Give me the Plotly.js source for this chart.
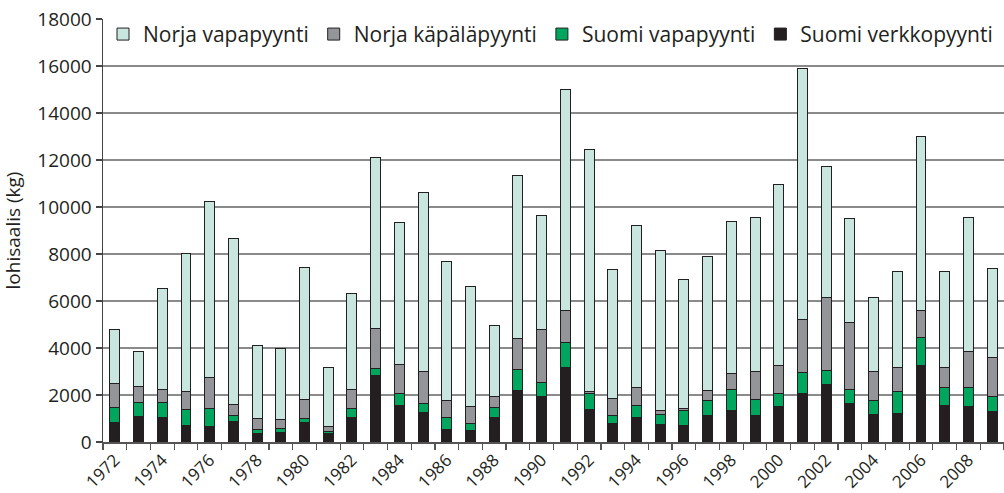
<!DOCTYPE html>
<html>
<head>
<meta charset="utf-8">
<script src="https://cdn.plot.ly/plotly-3.0.1.min.js"></script>
<style>html,body{margin:0;padding:0;background:#fff;}#chart{width:1004px;height:493px;}</style>
</head>
<body>
<div id="chart"></div>
<script>
const years = [1972,1973,1974,1975,1976,1977,1978,1979,1980,1981,1982,1983,1984,1985,1986,1987,1988,1989,1990,1991,1992,1993,1994,1995,1996,1997,1998,1999,2000,2001,2002,2003,2004,2005,2006,2007,2008,2009];
const suomiVerkko = [840,1080,1040,700,640,870,360,410,820,380,1050,2810,1570,1250,525,480,1040,2180,1930,3190,1400,770,1060,750,720,1110,1360,1120,1530,2080,2450,1630,1150,1210,3260,1560,1500,1280];
const suomiVapa = [640,600,660,690,790,270,170,170,200,80,370,330,500,400,510,300,440,910,610,1050,680,350,480,440,610,640,870,700,540,890,600,600,620,920,1190,770,810,640];
const norjaKapala = [990,690,540,740,1310,450,480,360,770,220,810,1670,1220,1330,720,750,470,1300,2240,1350,50,720,780,170,100,450,670,1200,1190,2230,3090,2850,1230,1020,1140,820,1560,1690];
const norjaVapa = [2300,1500,4280,5910,7500,7090,3100,3050,5630,2510,4080,7300,6070,7630,5910,5100,3020,6930,4860,9420,10310,5520,6890,6790,5490,5710,6480,6550,7710,10690,5600,4410,3130,4110,7420,4100,5700,3790];
const labelYears = years.filter(y => y % 2 === 0);
const yTicks = [0,2000,4000,6000,8000,10000,12000,14000,16000,18000];

const font = '"Open Sans", "Noto Sans", sans-serif';
const outline = {color: '#231f20', width: 1};
function tr(name, vals, color) {
  return {type: 'bar', name: name, x: years, y: vals,
    marker: {color: color, line: outline}, width: 0.42};
}
const data = [
  tr('Suomi verkkopyynti', suomiVerkko, '#231f20'),
  tr('Suomi vapapyynti', suomiVapa, '#00a65d'),
  tr('Norja käpäläpyynti', norjaKapala, '#939598'),
  tr('Norja vapapyynti', norjaVapa, '#c8e6de')
];
const layout = {
  width: 1004, height: 493,
  margin: {l: 103, r: 0, t: 19, b: 51},
  paper_bgcolor: '#fff', plot_bgcolor: '#fff',
  barmode: 'stack',
  font: {family: font, color: '#231f20', size: 19},
  showlegend: true,
  legend: {orientation: 'h', x: 0, xanchor: 'left', y: 1.012, yanchor: 'top',
    traceorder: 'reversed', font: {size: 21, family: font}, bgcolor: 'rgba(0,0,0,0)',
    itemwidth: 30},
  xaxis: {type: 'linear', range: [1971.5, 2009.5],
    tickmode: 'array', tickvals: labelYears, ticktext: labelYears.map(String),
    tickangle: -45, ticks: '', tickfont: {size: 17, family: font},
    minor: {tick0: 1971.5, dtick: 1, ticks: 'outside', ticklen: 6, tickcolor: '#555', tickwidth: 1.2},
    showline: true, linecolor: '#555', linewidth: 1.5,
    showgrid: false, zeroline: false, fixedrange: true},
  yaxis: {range: [0, 18000], tickmode: 'array', tickvals: yTicks, ticktext: yTicks.map(String),
    ticks: 'outside', ticklen: 6, tickcolor: '#444', tickwidth: 1.2,
    tickfont: {size: 19, family: font},
    showline: true, linecolor: '#444', linewidth: 1.5,
    showgrid: true, gridcolor: '#8a8a8a', gridwidth: 1.3, zeroline: false,
    title: {text: 'lohisaalis (kg)', font: {size: 19, family: font}, standoff: 12},
    fixedrange: true}
};
Plotly.newPlot('chart', data, layout, {staticPlot: true, displayModeBar: false});
</script>
</body>
</html>
